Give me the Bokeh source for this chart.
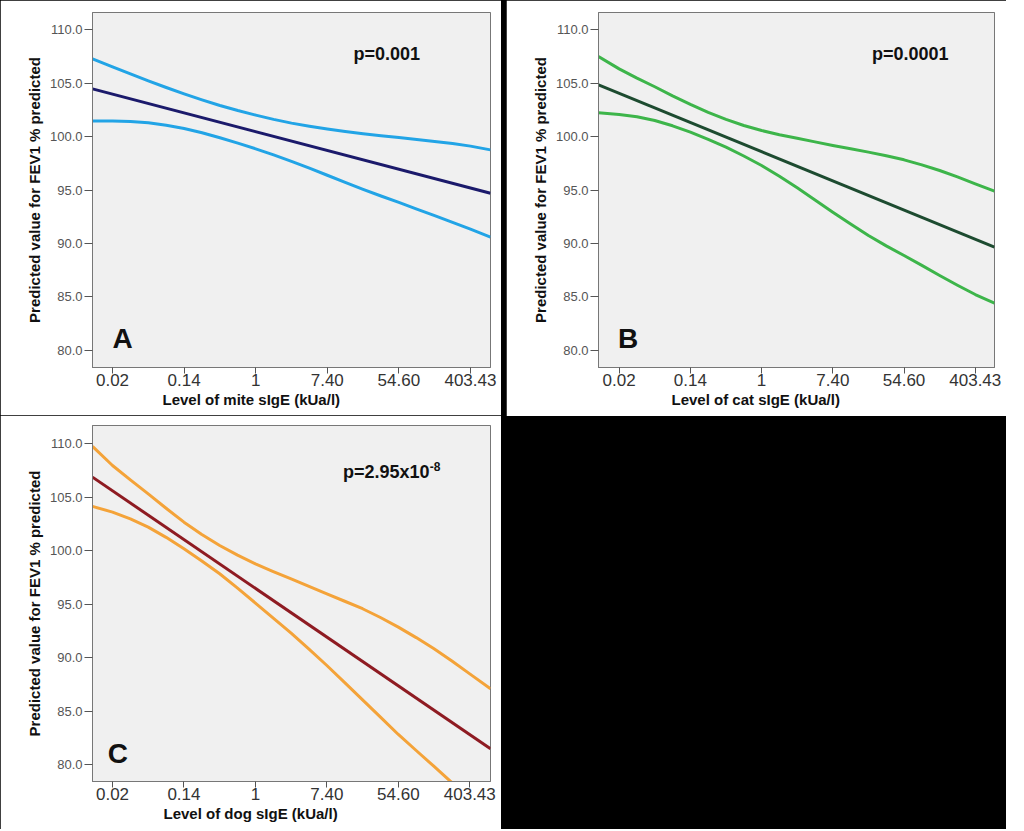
from bokeh.plotting import figure
from bokeh.models import Range1d, FixedTicker, NumeralTickFormatter, Label, Spacer, Title
from bokeh.layouts import row, column
from bokeh.embed import file_html
from bokeh.resources import INLINE

FONT = "Liberation Sans"

# x axis is ln(sIgE); tick labels show the back-transformed levels (kUa/l)
x_ticks = [-4, -2, 0, 2, 4, 6]
x_tick_labels = ["0.02", "0.14", "1", "7.40", "54.60", "403.43"]
y_ticks = [80, 85, 90, 95, 100, 105, 110]

# ---- Panel A: mite ----
mite_x = [-4.56, -4, -3.5, -3, -2.5, -2, -1.5, -1, -0.5, 0, 0.5, 1, 1.5, 2,
          2.5, 3, 3.5, 4, 4.5, 5, 5.5, 6, 6.56]
mite_upper = [107.26, 106.50, 105.85, 105.20, 104.58, 103.98, 103.42, 102.90, 102.43,
              102.00, 101.60, 101.25, 100.96, 100.70, 100.47, 100.26, 100.07, 99.90,
              99.72, 99.54, 99.34, 99.10, 98.75]
mite_lower = [101.45, 101.45, 101.40, 101.28, 101.05, 100.75, 100.35, 99.88, 99.38,
              98.85, 98.28, 97.68, 97.05, 96.38, 95.72, 95.06, 94.44, 93.84,
              93.22, 92.60, 91.98, 91.35, 90.60]
mite_fit_x = [-4.56, 6.56]
mite_fit = [104.45, 94.70]

# ---- Panel B: cat ----
cat_x = [-4.58, -4, -3.5, -3, -2.5, -2, -1.5, -1, -0.5, 0, 0.5, 1, 1.5, 2,
         2.5, 3, 3.5, 4, 4.5, 5, 5.5, 6, 6.54]
cat_upper = [107.48, 106.32, 105.45, 104.65, 103.80, 103.00, 102.25, 101.60, 101.03,
             100.56, 100.17, 99.84, 99.50, 99.16, 98.85, 98.54, 98.20, 97.82,
             97.35, 96.82, 96.22, 95.58, 94.89]
cat_lower = [102.21, 102.06, 101.85, 101.50, 101.00, 100.41, 99.74, 99.00, 98.18,
             97.29, 96.28, 95.20, 94.07, 92.93, 91.82, 90.75, 89.78, 88.88,
             87.95, 87.01, 86.10, 85.23, 84.42]
cat_fit_x = [-4.58, 6.54]
cat_fit = [104.83, 89.66]

# ---- Panel C: dog ----
dog_x = [-4.56, -4, -3.5, -3, -2.5, -2, -1.5, -1, -0.5, 0, 0.5, 1, 1.5, 2,
         2.5, 3, 3.5, 4, 4.5, 5, 5.5, 6, 6.58]
dog_upper = [109.75, 107.97, 106.62, 105.32, 103.97, 102.67, 101.52, 100.49, 99.58,
             98.77, 98.05, 97.37, 96.67, 95.97, 95.27, 94.57, 93.75, 92.85,
             91.87, 90.82, 89.68, 88.48, 87.08]
dog_lower = [104.14, 103.61, 102.97, 102.20, 101.25, 100.18, 99.04, 97.84, 96.50,
             95.10, 93.70, 92.29, 90.80, 89.26, 87.66, 86.05, 84.43, 82.81,
             81.31, 79.82, 78.30, 76.79, 75.05]
dog_fit_x = [-4.56, 6.58]
dog_fit = [106.88, 81.47]


def make_panel(width, height, left, right, top, bottom, xr, yr,
               xs, upper, lower, fx, fit, ci_color, fit_color,
               xlabel, xlabel_offset, letter, letter_pos, ptext, ptext_pos,
               sup=None, sup_pos=None):
    p = figure(width=width, height=height, output_backend="svg", toolbar_location=None,
               x_range=Range1d(*xr), y_range=Range1d(*yr),
               min_border_left=left, min_border_right=right,
               min_border_top=top, min_border_bottom=bottom,
               background_fill_color="#f0f0f0", border_fill_color="white",
               outline_line_color="#777777", outline_line_width=1)
    p.grid.visible = False

    p.line(xs, upper, line_color=ci_color, line_width=3, line_join="round")
    p.line(xs, lower, line_color=ci_color, line_width=3, line_join="round")
    p.line(fx, fit, line_color=fit_color, line_width=3)

    xa = p.xaxis[0]
    xa.ticker = FixedTicker(ticks=x_ticks)
    xa.major_label_overrides = dict(zip(x_ticks, x_tick_labels))
    xa.major_label_text_font = FONT
    xa.major_label_text_font_size = "17px"
    xa.major_label_text_color = "#333333"
    xa.major_tick_out = 6
    xa.major_tick_in = 0
    xa.minor_tick_out = 0
    xa.minor_tick_in = 0
    xa.major_tick_line_color = "#555555"
    xa.axis_line_color = "#777777"
    xa.major_label_standoff = 0

    ya = p.yaxis[0]
    ya.ticker = FixedTicker(ticks=y_ticks)
    ya.formatter = NumeralTickFormatter(format="0.0")
    ya.major_label_text_font = FONT
    ya.major_label_text_font_size = "13px"
    ya.major_label_text_color = "#555555"
    ya.major_tick_out = 8
    ya.major_tick_in = 0
    ya.minor_tick_out = 0
    ya.minor_tick_in = 0
    ya.major_tick_line_color = "#555555"
    ya.axis_line_color = "#777777"
    ya.major_label_standoff = 2
    ya.axis_label = "Predicted value for FEV1 % predicted"
    ya.axis_label_text_font = FONT
    ya.axis_label_text_font_size = "15px"
    ya.axis_label_text_font_style = "bold"
    ya.axis_label_text_color = "#111111"
    ya.axis_label_standoff = 4

    p.add_layout(Title(text=xlabel, align="left", offset=xlabel_offset, standoff=0,
                       text_font=FONT, text_font_size="15px", text_font_style="bold",
                       text_color="#111111"), "below")
    p.add_layout(Label(x=letter_pos[0], y=letter_pos[1], text=letter,
                       text_align="center", text_baseline="middle",
                       text_font=FONT, text_font_size="28px", text_font_style="bold",
                       text_color="#111111"))
    p.add_layout(Label(x=ptext_pos[0], y=ptext_pos[1], text=ptext,
                       text_align="left", text_baseline="middle",
                       text_font=FONT, text_font_size="18px", text_font_style="bold",
                       text_color="#111111"))
    if sup is not None:
        p.add_layout(Label(x=sup_pos[0], y=sup_pos[1], text=sup,
                           text_align="left", text_baseline="middle",
                           text_font=FONT, text_font_size="12px", text_font_style="bold",
                           text_color="#111111"))
    return p


pA = make_panel(501, 415, 92, 11, 12, 48, (-4.56, 6.56), (78.41, 111.59),
                mite_x, mite_upper, mite_lower, mite_fit_x, mite_fit,
                "#22a4e6", "#1b1a6b",
                "Level of mite sIgE (kUa/l)", 70,
                "A", (-3.72, 81.12), "p=0.001", (2.73, 107.71))

pB = make_panel(500, 416, 92, 12, 12, 49, (-4.58, 6.54), (78.41, 111.59),
                cat_x, cat_upper, cat_lower, cat_fit_x, cat_fit,
                "#3db54a", "#1d4b30",
                "Level of cat sIgE (kUa/l)", 73,
                "B", (-3.75, 81.12), "p=0.0001", (3.10, 107.71))

pC = make_panel(501, 414, 92, 11, 10, 48, (-4.56, 6.58), (78.41, 111.71),
                dog_x, dog_upper, dog_lower, dog_fit_x, dog_fit,
                "#f4a339", "#8e1b22",
                "Level of dog sIgE (kUa/l)", 71,
                "C", (-3.85, 81.03), "p=2.95x10", (2.45, 107.36),
                sup="-8", sup_pos=(4.88, 107.92))

filler = Spacer(width=500, height=413)
layout = row(column(pA, pC), column(pB, filler), spacing=5,
             styles={"background-color": "black"})

open("out.html", "w").write(file_html(layout, INLINE))
